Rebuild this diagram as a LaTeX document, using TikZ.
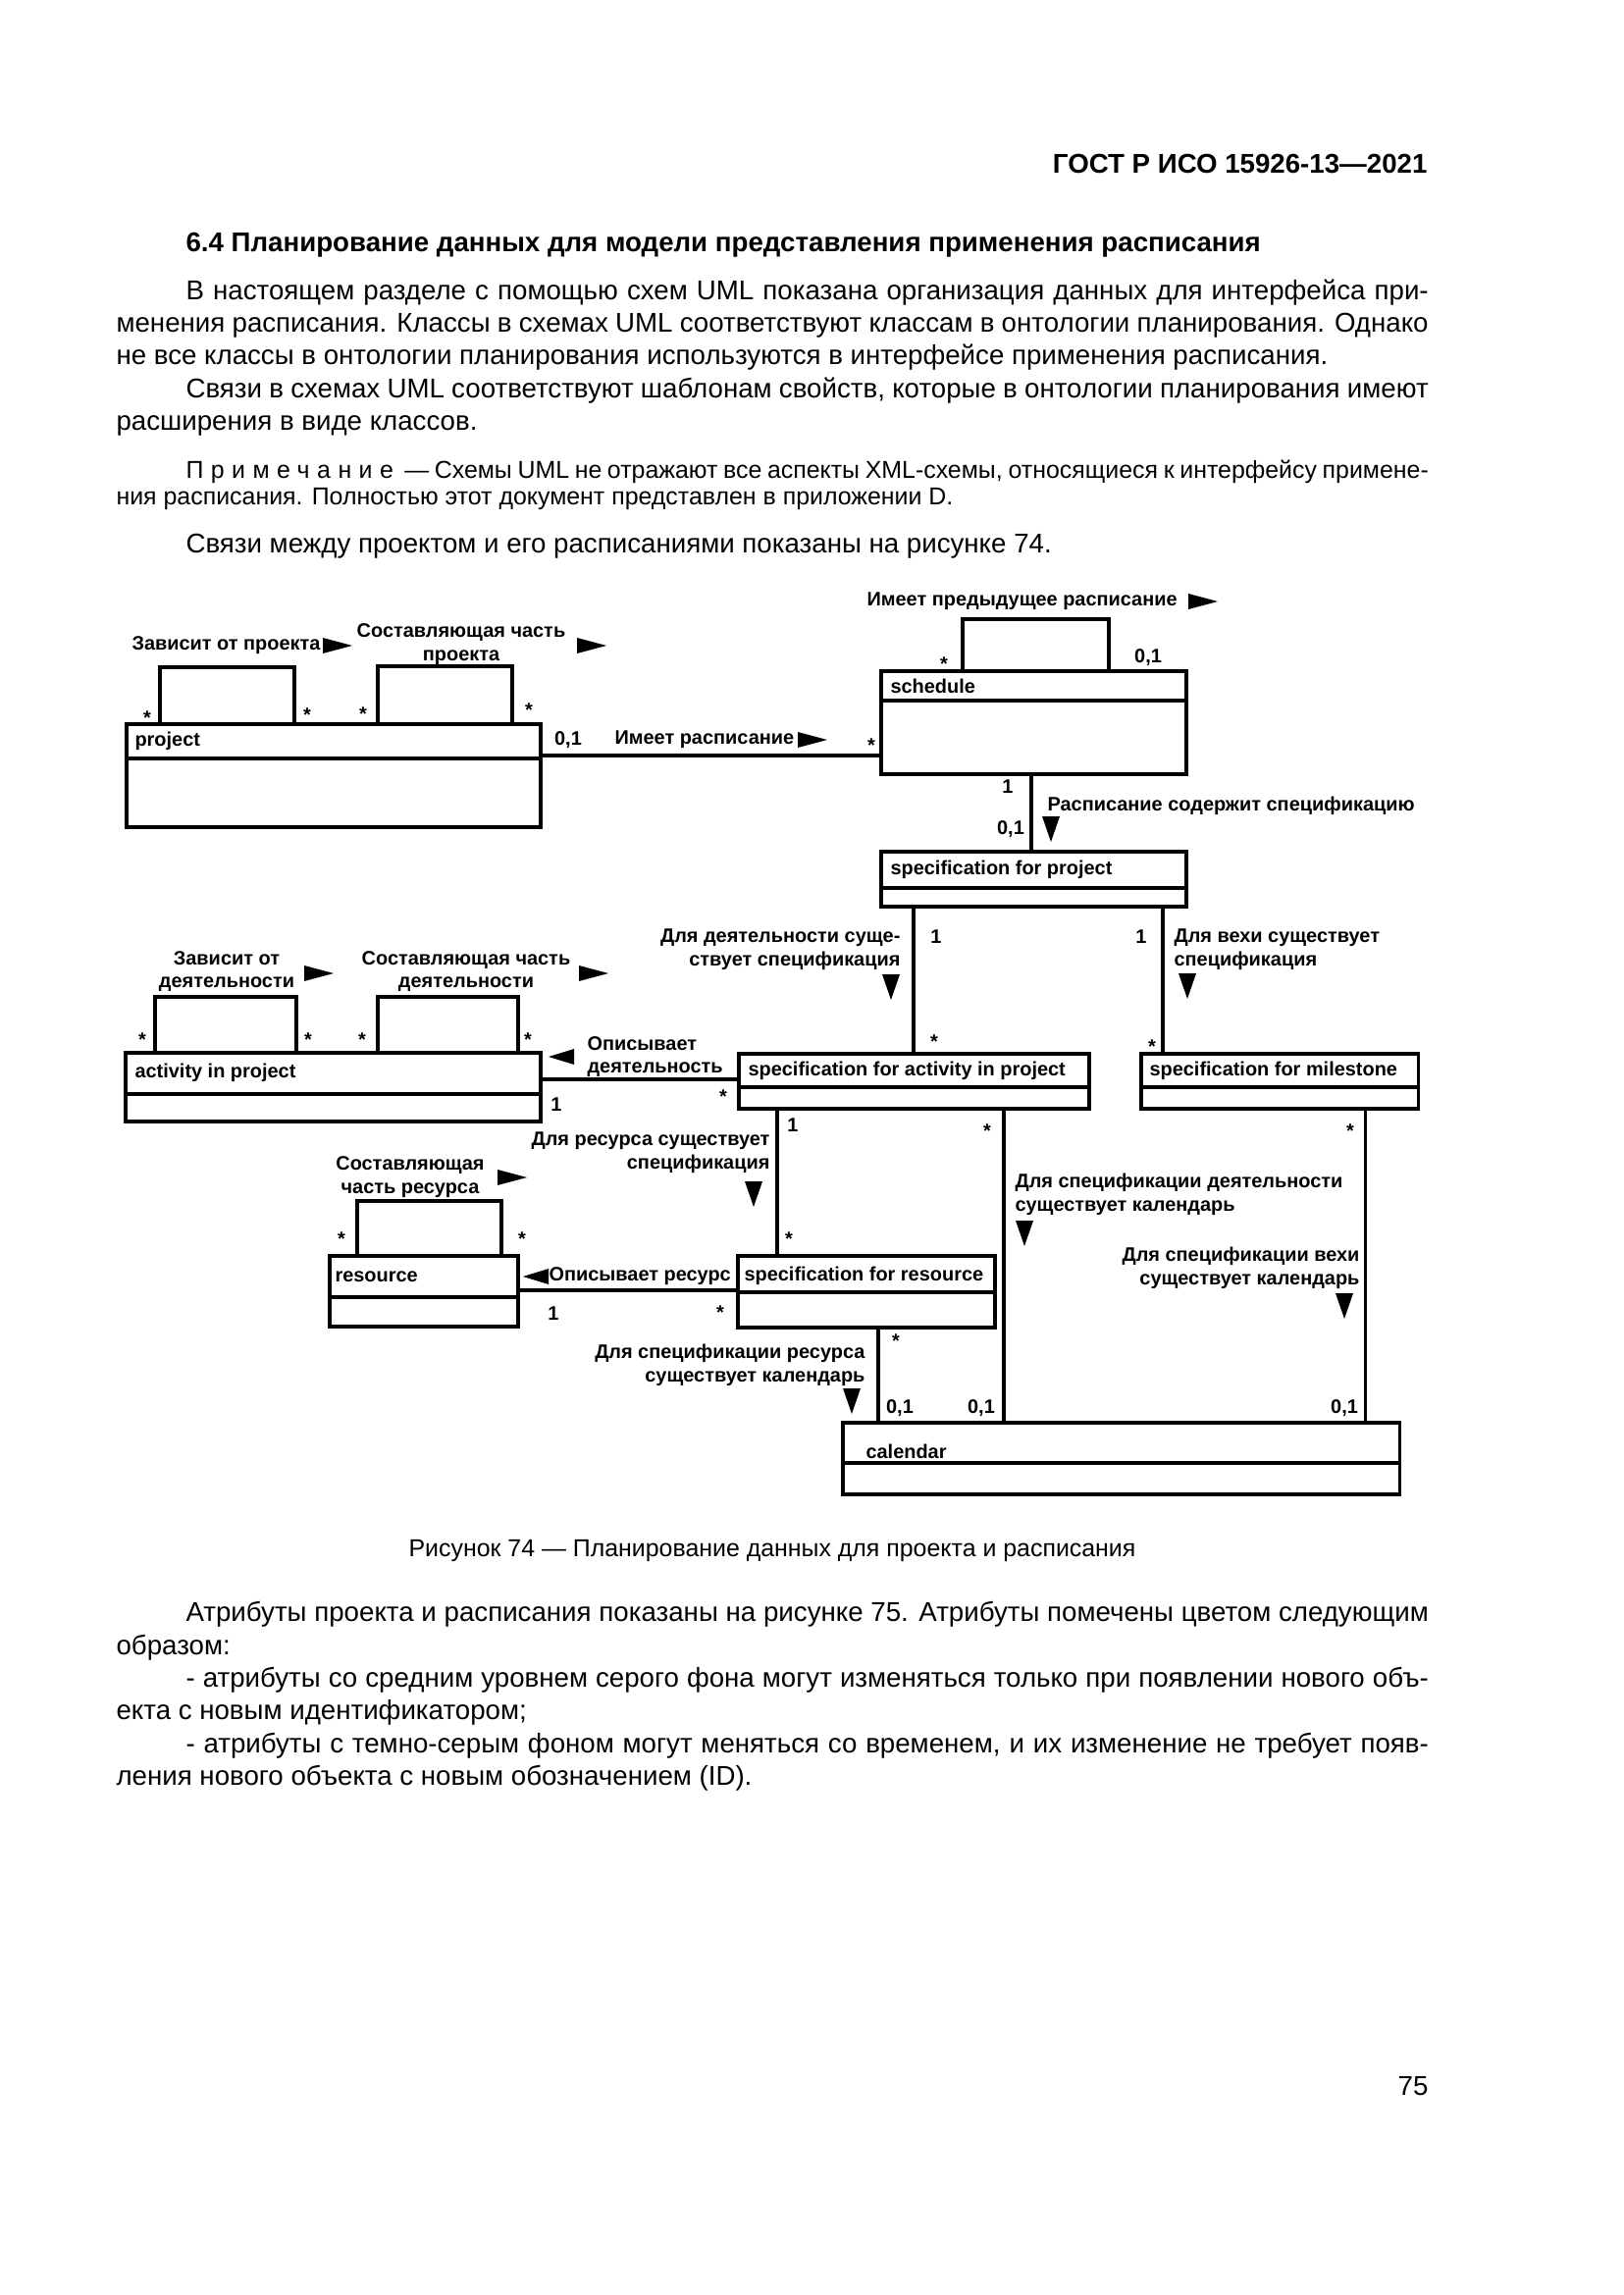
\documentclass[tikz,border=0pt]{standalone}
\usepackage{fontspec}
\setmainfont{Liberation Sans}
\usetikzlibrary{fit}

\newcommand{\fullw}{169.8mm}
\newcommand{\indw}{160.8mm}
% filled direction marks of the associations
\newcommand{\arrR}[2]{\fill (#1,#2) ++(-15,-8) -- ++(30,8) -- ++(-30,8) -- cycle;}
\newcommand{\arrL}[2]{\fill (#1,#2) ++(13,-8) -- ++(-26,8) -- ++(26,8) -- cycle;}
\newcommand{\arrD}[2]{\fill (#1,#2) ++(-9,-13) -- ++(18,0) -- ++(-9,26) -- cycle;}
% class box: name, x1, y1, x2, ysep, y2, label, label x, label y
\newcommand{\umlclass}[9]{%
  \node[cls, fit={(#2,#3) (#4,#6)}] (#1) {};
  \draw[assoc] (#1.west |- 0,#5) -- (#1.east |- 0,#5);
  \node[lbl, anchor=west] (#1-name) at (#8,#9) {#7};
}
\newcommand{\selfloop}[4]{\draw[assoc] (#1.north -| #2,0) |- (#3,#4) -- (#1.north -| #3,0);}

\tikzset{
  cls/.style={draw, line width=1.1pt, inner sep=0pt},
  assoc/.style={line width=1.1pt},
  lbl/.style={inner sep=0pt, font=\fontsize{7.2}{8.6}\selectfont\bfseries},
  star/.style={lbl, yshift=-1.5pt},
  body/.style={anchor=base west, inner sep=0pt, font=\fontsize{10}{12}\selectfont},
  note/.style={body, font=\fontsize{9}{11}\selectfont},
}

\begin{document}
\begin{tikzpicture}[x=0.127mm,y=-0.127mm]
\fill[white] (0,0) rectangle (1654,2339);
\useasboundingbox (0,0) rectangle (1654,2339);

% page text
\node[body, anchor=base east, font=\fontsize{10}{12}\selectfont\bfseries] (gost) at (1455,177) {ГОСТ Р ИСО 15926-13—2021};
\node[body, font=\fontsize{10}{12}\selectfont\bfseries] (sect) at (189,257) {6.4 Планирование данных для модели представления применения расписания};
\node[body] (p1a) at (189,306) {\makebox[\indw][s]{В настоящем разделе с помощью схем UML показана организация данных для интерфейса при-}};
\node[body] (p1b) at (118,339) {\makebox[\fullw][s]{менения расписания. Классы в схемах UML соответствуют классам в онтологии планирования. Однако}};
\node[body] (p1c) at (118,372) {не все классы в онтологии планирования используются в интерфейсе применения расписания.};
\node[body] (p2a) at (189,406) {\makebox[\indw][s]{Связи в схемах UML соответствуют шаблонам свойств, которые в онтологии планирования имеют}};
\node[body] (p2b) at (118,439) {расширения в виде классов.};
\node[note] (n1) at (189,488) {\makebox[\indw][s]{{\addfontfeature{LetterSpace=30}Примечание}\ \ — Схемы UML не отражают все аспекты XML-схемы, относящиеся к интерфейсу примене-}};
\node[note] (n2) at (118,515) {ния расписания. Полностью этот документ представлен в приложении D.};
\node[body] (p3) at (189,564) {Связи между проектом и его расписаниями показаны на рисунке 74.};

% classes
\umlclass{project}{129}{738}{551}{773}{843}{project}{137}{755}
\umlclass{schedule}{898}{684}{1209}{714}{789}{schedule}{907}{699}
\umlclass{specproj}{898}{868}{1209}{905}{924}{specification for project}{907}{886}
\umlclass{activity}{128}{1073}{551}{1115}{1143}{activity in project}{137}{1093}
\umlclass{specact}{753}{1074}{1110}{1108}{1130}{specification for activity in project}{762}{1091}
\umlclass{milestone}{1163}{1074}{1445}{1108}{1130}{specification for milestone}{1171}{1091}
\umlclass{resource}{336}{1280}{528}{1322}{1352}{resource}{341}{1301}
\umlclass{specres}{752}{1280}{1014}{1317}{1353}{specification for resource}{758}{1300}
\umlclass{calendar}{859}{1450}{1426}{1491}{1523}{calendar}{882}{1479}

% self associations
\selfloop{project}{163}{300}{680}
\selfloop{project}{385}{522}{679}
\selfloop{schedule}{981}{1130}{631}
\selfloop{activity}{158}{302}{1016}
\selfloop{activity}{385}{528}{1016}
\selfloop{resource}{364}{511}{1224}

% associations
\draw[assoc] (project.east |- 0,770) -- (schedule.west |- 0,770);
\draw[assoc] (schedule.south -| 1051,0) -- (specproj.north -| 1051,0);
\draw[assoc] (specproj.south -| 931,0) -- (specact.north -| 931,0);
\draw[assoc] (specproj.south -| 1185,0) -- (milestone.north -| 1185,0);
\draw[assoc] (activity.east |- 0,1100) -- (specact.west |- 0,1100);
\draw[assoc] (specact.south -| 792,0) -- (specres.north -| 792,0);
\draw[assoc] (resource.east |- 0,1315) -- (specres.west |- 0,1315);
\draw[assoc] (specres.south -| 895,0) -- (calendar.north -| 895,0);
\draw[assoc] (specact.south -| 1023,0) -- (calendar.north -| 1023,0);
\draw[assoc] (milestone.south -| 1391,0) -- (calendar.north -| 1391,0);

% association names
\node[lbl, anchor=west] (l-dep) at (134,658) {Зависит от проекта};
\node[lbl, align=center] (l-part) at (470,657) {Составляющая часть\\проекта};
\node[lbl, anchor=west] (l-has) at (626,754) {Имеет расписание};
\node[lbl, anchor=west] (l-prev) at (883,613) {Имеет предыдущее расписание};
\node[lbl, anchor=west] (l-cont) at (1067,821) {Расписание содержит спецификацию};
\node[lbl, align=right, anchor=east] (l-actspec) at (918,968) {Для деятельности суще-\\ствует спецификация};
\node[lbl, align=left, anchor=west] (l-msspec) at (1196,968) {Для вехи существует\\спецификация};
\node[lbl, align=left, anchor=west] (l-descact) at (598,1077) {Описывает\\деятельность};
\node[lbl, align=center] (l-depact) at (231,990) {Зависит от\\деятельности};
\node[lbl, align=center] (l-partact) at (475,990) {Составляющая часть\\деятельности};
\node[lbl, align=right, anchor=east] (l-resspec) at (785,1175) {Для ресурса существует\\спецификация};
\node[lbl, align=center] (l-partres) at (418,1200) {Составляющая\\часть ресурса};
\node[lbl, anchor=west] (l-descres) at (559,1301) {Описывает ресурс};
\node[lbl, align=right, anchor=east] (l-rescal) at (882,1391) {Для спецификации ресурса\\существует календарь};
\node[lbl, align=left, anchor=west] (l-actcal) at (1034,1217) {Для спецификации деятельности\\существует календарь};
\node[lbl, align=right, anchor=east] (l-mscal) at (1386,1292) {Для спецификации вехи\\существует календарь};

\arrR{344}{658}
\arrR{603}{658}
\arrR{828}{754}
\arrR{1226}{613}
\arrD{1071}{845}
\arrD{908}{1006}
\arrD{1210}{1005}
\arrL{572}{1077}
\arrR{325}{992}
\arrR{605}{992}
\arrD{768}{1217}
\arrR{522}{1200}
\arrL{546}{1301}
\arrD{868}{1428}
\arrD{1044}{1257}
\arrD{1370}{1331}

% multiplicities
\foreach \x/\y [count=\i] in {150/727, 313/724, 370/723, 539/719, 888/755, 962/672,
    952/1057, 1174/1062, 145/1055, 314/1055, 369/1055, 538/1055, 737/1113, 804/1258,
    348/1258, 532/1258, 734/1333, 913/1362, 1006/1148, 1376/1148}
  \node[star] (st\i) at (\x,\y) {*};
\foreach \x/\y [count=\i] in {1027/802, 954/955, 1163/955, 567/1126, 808/1147, 564/1339}
  \node[lbl] (one\i) at (\x,\y) {1};
\foreach \x/\y [count=\i] in {579/754, 1170/670, 1030/845, 917/1435, 1000/1435, 1370/1435}
  \node[lbl] (opt\i) at (\x,\y) {0,1};

% caption and following text
\node[note, anchor=base] (cap) at (787,1586) {Рисунок 74 — Планирование данных для проекта и расписания};
\node[body] (q1) at (189,1652) {\makebox[\indw][s]{Атрибуты проекта и расписания показаны на рисунке 75. Атрибуты помечены цветом следующим}};
\node[body] (q2) at (118,1686) {образом:};
\node[body] (q3) at (189,1719) {\makebox[\indw][s]{- атрибуты со средним уровнем серого фона могут изменяться только при появлении нового объ-}};
\node[body] (q4) at (118,1752) {екта с новым идентификатором;};
\node[body] (q5) at (189,1786) {\makebox[\indw][s]{- атрибуты с темно-серым фоном могут меняться со временем, и их изменение не требует появ-}};
\node[body] (q6) at (118,1819) {ления нового объекта с новым обозначением (ID).};
\node[body, anchor=base east] (pg) at (1456,2135) {75};
\end{tikzpicture}
\end{document}
